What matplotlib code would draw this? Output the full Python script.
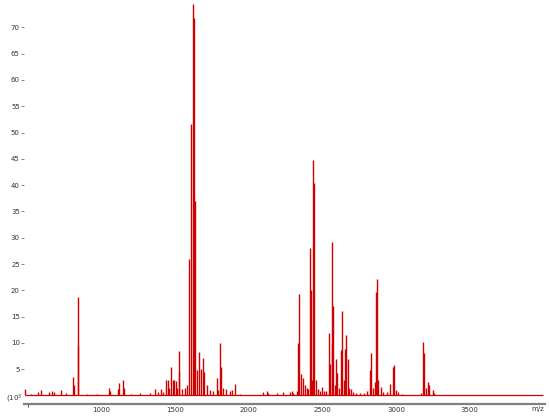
# coding:utf-8
import matplotlib
matplotlib.use("Agg")
import matplotlib.pyplot as plt

# peak list (m/z, intensity in 10^3 counts)
mz = [480, 520, 567, 587, 645, 666, 677, 723, 759, 808, 813, 838, 842, 900, 967,
      1053, 1058, 1114, 1119, 1144, 1149, 1200, 1260, 1329, 1363, 1384, 1404, 1418,
      1438, 1450, 1459, 1470, 1484, 1492, 1506, 1515, 1524, 1528, 1545, 1567, 1583,
      1596, 1605, 1620, 1627, 1634, 1651, 1662, 1674, 1687, 1693, 1715, 1737, 1759,
      1783, 1791, 1805, 1812, 1827, 1846, 1873, 1884, 1905, 1941,
      2099, 2122, 2133, 2190, 2235, 2280, 2292, 2303, 2326,
      2337, 2344, 2355, 2371, 2382, 2393, 2403, 2416, 2421, 2430, 2439, 2446, 2457,
      2471, 2484, 2498, 2511, 2525, 2545, 2552, 2564, 2568, 2575, 2586, 2593, 2602,
      2613, 2629, 2634, 2644, 2654, 2661, 2672, 2681, 2693, 2708, 2729, 2756, 2783,
      2804, 2826, 2831, 2845, 2858, 2865, 2869, 2880, 2897, 2914, 2937, 2962, 2982,
      2987, 3000, 3016, 3039, 3170, 3186, 3193, 3204, 3220, 3227, 3250, 3259]
intensity = [1.3, 0.3, 0.7, 1.0, 0.7, 0.8, 0.6, 1.05, 0.4, 3.6, 2.0, 18.8, 9.5, 0.3, 0.3,
             1.5, 0.8, 1.2, 2.3, 2.9, 1.5, 0.3, 0.4, 0.5, 1.2, 0.6, 1.2, 0.7,
             2.9, 2.9, 1.5, 5.5, 2.9, 2.9, 2.8, 1.5, 4.5, 8.5, 1.2, 1.5, 2.0,
             26.0, 51.7, 74.5, 71.7, 37.0, 4.8, 8.3, 5.0, 7.1, 4.5, 2.0, 1.0, 0.8,
             3.3, 1.0, 9.9, 5.5, 1.5, 1.2, 0.8, 1.0, 2.1, 0.3,
             0.6, 0.8, 0.5, 0.4, 0.7, 0.6, 0.9, 0.5, 0.8,
             10.0, 19.3, 4.0, 3.3, 2.0, 1.5, 1.2, 28.0, 20.0, 3.0, 44.8, 40.4, 3.0,
             1.2, 0.8, 1.7, 0.8, 0.9, 11.8, 6.0, 10.0, 29.2, 17.0, 2.0, 7.0, 4.2,
             1.5, 8.6, 16.1, 3.0, 8.8, 11.5, 7.0, 1.5, 1.3, 0.7, 0.5, 0.4, 0.5,
             0.9, 4.8, 8.0, 1.5, 2.6, 19.7, 22.1, 2.9, 1.7, 0.7, 0.7, 2.2, 5.5,
             5.8, 1.0, 0.6, 0.3, 0.4, 10.2, 8.0, 1.5, 2.6, 2.0, 1.1, 0.5]

mz_start = 478
mz_end = 3998
yticks = [5, 10, 15, 20, 25, 30, 35, 40, 45, 50, 55, 60, 65, 70]
xticks = [1000, 1500, 2000, 2500, 3000, 3500]

red = "#d00000"
grey = "#808080"

fig = plt.figure(figsize=(5.5, 4.18), dpi=100)
ax = fig.add_axes([24 / 550, 14 / 418, 521 / 550, 404 / 418])

ax.hlines(0, mz_start, mz_end, color=red, linewidth=0.9)
ax.vlines(mz, 0, intensity, color=red, linewidth=1.0)

ax.set_xlim(473, 4012)
ax.set_ylim(-1.62, 75.2)

for s in ["left", "top", "right"]:
    ax.spines[s].set_visible(False)
ax.spines["bottom"].set_color(grey)
ax.spines["bottom"].set_linewidth(1.6)

ax.set_yticks(yticks)
ax.set_yticklabels([str(v) for v in yticks])
ax.tick_params(axis="y", length=2, width=0.5, color="#555555", pad=1,
               labelsize=5, labelcolor="#333333")

ax.set_xticks(xticks)
ax.set_xticklabels([str(v) for v in xticks])
ax.set_xticks([500], minor=True)
ax.tick_params(axis="x", which="major", length=0, pad=2.5,
               labelsize=5, labelcolor="#333333")
ax.tick_params(axis="x", which="minor", length=2, width=0.6, color="#333333")

fig.text(537.5 / 550, 1 - 409 / 418, "m/z", ha="center", va="center",
         fontsize=5, color="#333333")
fig.text(14.5 / 550, 1 - 399 / 418, "(10$^3$", ha="center", va="center",
         fontsize=5, color="#333333")

fig.savefig("out.png", dpi=100)
